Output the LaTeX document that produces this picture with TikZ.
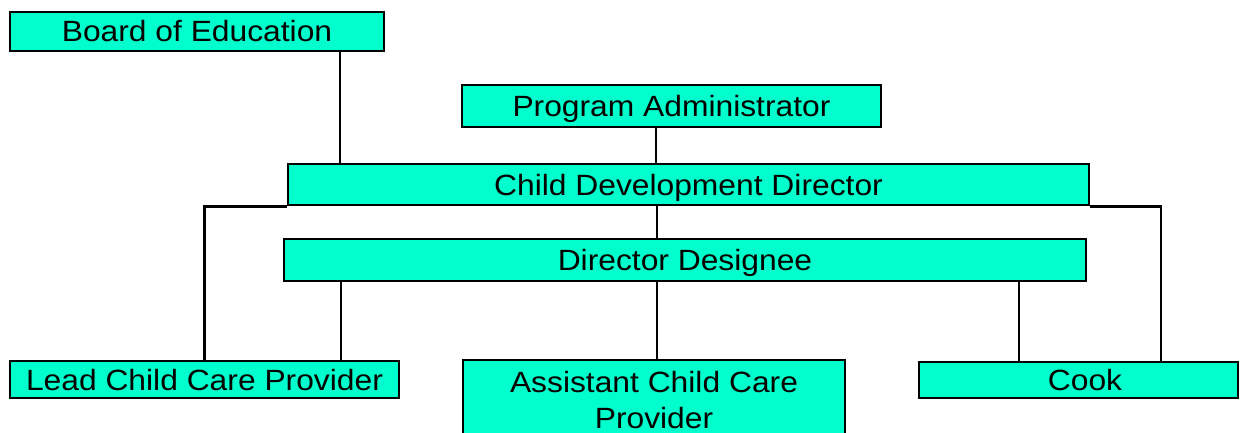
\documentclass[tikz,border=0pt]{standalone}
\usepackage{fontspec}
\setmainfont{Liberation Sans}[FakeStretch=1.085]
\definecolor{boxfill}{RGB}{0,255,204}
\begin{document}
\begin{tikzpicture}[x=1pt,y=-1pt,
  box/.style={draw=black, line width=2.8pt, fill=boxfill, inner sep=0pt,
    font=\fontsize{29.3}{36}\selectfont},
  one/.style={box, text height=21pt, text depth=0pt},
  link/.style={draw=black, line width=2.2pt}]
\useasboundingbox (0,0) rectangle (1240,433);
% boxes
\node[one, minimum width=374pt, minimum height=39pt] (boe) at (197,31.5) {Board of Education};
\node[one, minimum width=419pt, minimum height=42pt] (pa) at (671.5,106) {Program Administrator};
\node[one, minimum width=801pt, minimum height=41pt] (cdd) at (688.5,184.5) {Child Development Director};
\node[one, minimum width=802pt, minimum height=42pt] (dd) at (685,260) {Director Designee};
\node[one, minimum width=389pt, minimum height=37pt] (lead) at (204.5,379.5) {Lead Child Care Provider};
\node[box, align=center, minimum width=382pt, minimum height=80pt] (asst) at (654,400) {Assistant Child Care\\Provider};
\node[one, minimum width=319pt, minimum height=36pt] (cook) at (1078.5,380) {\hspace*{13pt}Cook};
% connectors
\draw[link] ([xshift=143pt]boe.south) -- ([xshift=143pt]boe.south |- cdd.north);
\draw[link] ([xshift=-15.5pt]pa.south) -- ([xshift=-15.5pt]pa.south |- cdd.north);
\draw[link] ([xshift=-31.5pt]cdd.south) -- ([xshift=-31.5pt]cdd.south |- dd.north);
\draw[link] (cdd.south west) -| (lead.north);
\draw[link] (cdd.south east) -| ([xshift=82.5pt]cook.north);
\draw[link] ([xshift=136.5pt]lead.north) -- ([xshift=136.5pt]lead.north |- dd.south);
\draw[link] ([xshift=3pt]asst.north) -- ([xshift=3pt]asst.north |- dd.south);
\draw[link] ([xshift=-59.5pt]cook.north) -- ([xshift=-59.5pt]cook.north |- dd.south);
\end{tikzpicture}
\end{document}
